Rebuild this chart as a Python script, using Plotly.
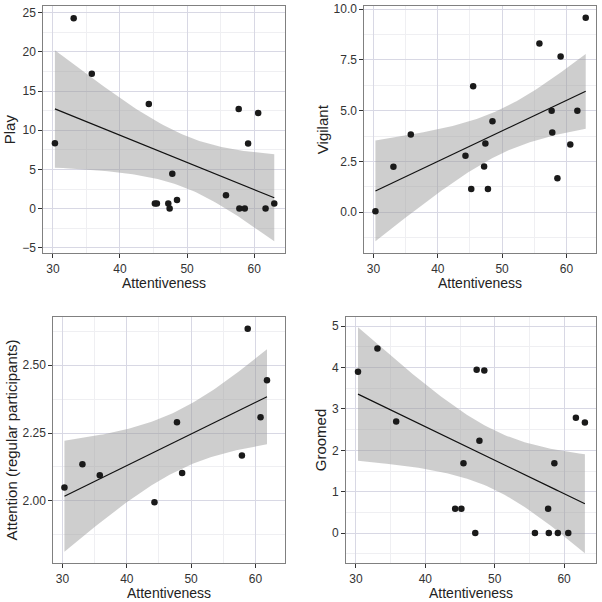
import numpy as np
import plotly.graph_objects as go

# ---- data ----
att = [30.3, 33.1, 35.8, 44.3, 45.2, 45.5, 47.2, 47.4, 47.8, 48.5,
       55.8, 57.7, 57.8, 58.6, 59.1, 60.6, 61.7, 63.0]
play = [8.35, 24.3, 17.2, 13.35, 0.64, 0.64, 0.64, 0.0, 4.45, 1.1,
        1.7, 12.7, 0.0, 0.0, 8.3, 12.2, 0.0, 0.64]
vigilant = [0.05, 2.24, 3.83, 2.78, 1.15, 6.2, 2.25, 3.38, 1.15, 4.48,
            8.3, 5.0, 3.92, 1.67, 7.66, 3.33, 5.0, 9.57]
groomed = [3.9, 4.46, 2.7, 0.59, 0.59, 1.69, 0.0, 3.95, 2.23, 3.93,
           0.0, 0.59, 0.0, 1.69, 0.0, 0.0, 2.79, 2.67]
att_reg = [30.3, 33.1, 35.8, 44.3, 47.8, 48.6, 57.9, 58.8, 60.8, 61.8]
attention_reg = [2.049, 2.135, 2.095, 1.995, 2.29, 2.103, 2.167, 2.635, 2.308, 2.445]

x_title = "Attentiveness"
y_titles = ["Play", "Vigilant", "Attention (regular participants)", "Groomed"]
y_ticks = [[-5, 0, 5, 10, 15, 20, 25], [0.0, 2.5, 5.0, 7.5, 10.0],
           [2.00, 2.25, 2.50], [0, 1, 2, 3, 4, 5]]
y_ticktext = [None, ["0.0", "2.5", "5.0", "7.5", "10.0"], ["2.00", "2.25", "2.50"], None]
y_ranges = [[-5.7, 25.85], [-2.02, 10.15], [1.77, 2.679], [-0.73, 5.23]]
y_minor = [2.5, 1.25, 0.125, 0.5]
x_ticks = [30, 40, 50, 60]
x_range = [28.57, 64.6]

T975 = {16: 2.119905, 8: 2.306004}


def lm_ci(x, y, n=80):
    x = np.asarray(x, float)
    y = np.asarray(y, float)
    N = len(x)
    b, a = np.polyfit(x, y, 1)
    resid = y - (a + b * x)
    s = np.sqrt(np.sum(resid ** 2) / (N - 2))
    xm = x.mean()
    sxx = np.sum((x - xm) ** 2)
    xs = np.linspace(x.min(), x.max(), n)
    fit = a + b * xs
    se = s * np.sqrt(1.0 / N + (xs - xm) ** 2 / sxx)
    t = T975[N - 2]
    return xs, fit, fit - t * se, fit + t * se


panels = [(att, play), (att, vigilant), (att_reg, attention_reg), (att, groomed)]

W = 602.0
# plot-area boxes in pixels (left, right, top, bottom)
boxes = [(43.3, 285, 6, 253.3), (364.3, 596, 6, 253.3),
         (53.3, 285, 316.7, 563.3), (346, 596, 316.7, 563.3)]

fig = go.Figure()
font_fam = "Liberation Sans, Arial, sans-serif"
y_standoffs = [2, 1, 1, 1]
title_font = dict(family=font_fam, size=15, color="#222222")
xtitle_font = dict(family=font_fam, size=14, color="#222222")

for i, ((x, y), box) in enumerate(zip(panels, boxes)):
    k = "" if i == 0 else str(i + 1)
    xa, ya = "x" + k, "y" + k
    xs, fit, lo, hi = lm_ci(x, y)
    fig.add_trace(go.Scatter(x=np.concatenate([xs, xs[::-1]]),
                             y=np.concatenate([hi, lo[::-1]]),
                             fill="toself", fillcolor="rgba(153,153,153,0.48)",
                             line=dict(width=0), mode="lines", hoverinfo="skip",
                             showlegend=False, xaxis=xa, yaxis=ya))
    fig.add_trace(go.Scatter(x=xs, y=fit, mode="lines",
                             line=dict(color="#111111", width=1.2),
                             showlegend=False, xaxis=xa, yaxis=ya))
    fig.add_trace(go.Scatter(x=x, y=y, mode="markers",
                             marker=dict(color="#1a1a1a", size=6.5),
                             showlegend=False, xaxis=xa, yaxis=ya))
    l, r, t, b = box
    axis_common = dict(showline=True, linecolor="#808080", linewidth=1, mirror=True,
                       ticks="outside", ticklen=4, tickcolor="#333333", tickwidth=1,
                       showgrid=True, gridcolor="#d8d8e4", gridwidth=1,
                       zeroline=False, automargin=False, ticklabeloverflow="allow",
                       tickfont=dict(family=font_fam, size=12, color="#333333"))
    fig.layout["xaxis" + k] = dict(
        axis_common, domain=[l / W, r / W], anchor=ya, range=x_range,
        tickvals=x_ticks,
        minor=dict(showgrid=True, gridcolor="#efeff2", gridwidth=1, dtick=5, tick0=0))
    # x-axis title as annotation placed under the tick labels
    fig.add_annotation(text=x_title, xref="paper", yref="paper",
                       x=(l + r) / 2 / W, y=1 - (b + 29.5) / W,
                       xanchor="center", yanchor="middle", showarrow=False,
                       font=xtitle_font)
    yt = dict(axis_common, domain=[1 - b / W, 1 - t / W], anchor=xa, range=y_ranges[i],
              tickvals=y_ticks[i],
              minor=dict(showgrid=True, gridcolor="#efeff2", gridwidth=1,
                         dtick=y_minor[i], tick0=0),
              title=dict(text=y_titles[i], font=title_font, standoff=y_standoffs[i]))
    if y_ticktext[i] is not None:
        yt["ticktext"] = y_ticktext[i]
    fig.layout["yaxis" + k] = yt

fig.update_layout(width=602, height=602, margin=dict(l=0, r=0, t=0, b=0),
                  plot_bgcolor="white", paper_bgcolor="white", showlegend=False)
# remove the default 8px page margin so the 602px figure fills the window
fig.write_html("out.html", config={"displayModeBar": False},
               post_script="document.body.style.margin='0';")
